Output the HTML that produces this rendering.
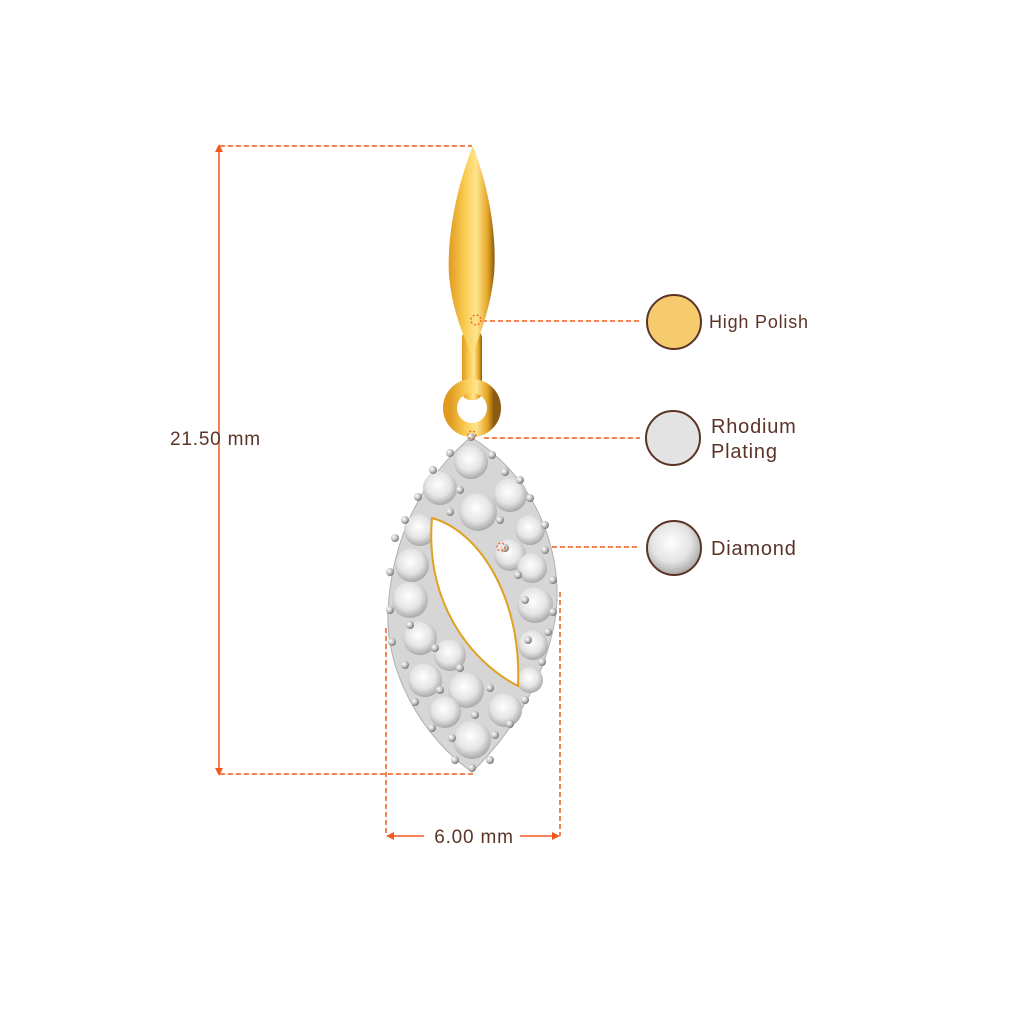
<!DOCTYPE html>
<html><head><meta charset="utf-8"><style>
html,body{margin:0;padding:0;background:#fff;}
svg{display:block}
text{font-family:"Liberation Sans",sans-serif;fill:#5b3427;letter-spacing:0.8px}
</style></head><body>
<svg width="1024" height="1024" viewBox="0 0 1024 1024" xmlns="http://www.w3.org/2000/svg">
<defs>
<linearGradient id="gold" x1="0" x2="1" y1="0" y2="0">
<stop offset="0" stop-color="#e09a20"/><stop offset="0.35" stop-color="#f9cc52"/><stop offset="0.6" stop-color="#ffe48e"/><stop offset="0.85" stop-color="#e4a424"/><stop offset="1" stop-color="#8a5a10"/></linearGradient>
<radialGradient id="dia" cx="0.45" cy="0.4" r="0.6"><stop offset="0" stop-color="#ffffff"/><stop offset="0.6" stop-color="#e4e4e4"/><stop offset="1" stop-color="#a8a8a8"/></radialGradient>
<radialGradient id="bead" cx="0.35" cy="0.35" r="0.7"><stop offset="0" stop-color="#fff"/><stop offset="0.5" stop-color="#c8c8c8"/><stop offset="1" stop-color="#707070"/></radialGradient>
</defs>
<g stroke="#f05a1e" stroke-width="1.5" fill="none">
<line x1="219" y1="150" x2="219" y2="770"/>
<line x1="220" y1="146" x2="472" y2="146" stroke-dasharray="5,3"/>
<line x1="220" y1="774" x2="475" y2="774" stroke-dasharray="5,3"/>
<line x1="386" y1="628" x2="386" y2="836" stroke-dasharray="5,3"/>
<line x1="560" y1="592" x2="560" y2="836" stroke-dasharray="5,3"/>
<line x1="390" y1="836" x2="424" y2="836"/>
<line x1="520" y1="836" x2="556" y2="836"/>
<line x1="482" y1="321" x2="640" y2="321" stroke-dasharray="5,3"/>
<line x1="484" y1="438" x2="640" y2="438" stroke-dasharray="5,3"/>
<line x1="504" y1="547" x2="640" y2="547" stroke-dasharray="5,3"/>
</g>
<g fill="#f05a1e">
<polygon points="219,144 215,152 223,152"/><polygon points="219,776 215,768 223,768"/>
<polygon points="386,836 394,832 394,840"/><polygon points="560,836 552,832 552,840"/>
</g>
<text x="170" y="445" font-size="19">21.50 mm</text>
<text x="474" y="843" font-size="19" text-anchor="middle">6.00 mm</text>
<!-- bale -->
<rect x="462" y="330" width="20" height="70" rx="8" fill="url(#gold)"/>
<circle cx="472" cy="408" r="22" fill="none" stroke="url(#gold)" stroke-width="14"/>
<path d="M473,146 C490,190 497,240 494,275 C490,310 480,335 472,355 C463,335 452,310 449,275 C447,240 455,190 473,146 Z" fill="url(#gold)"/>
<circle cx="476" cy="320" r="5" fill="none" stroke="#f05a1e" stroke-width="1.2" stroke-dasharray="2,2"/>
<!-- pendant -->
<path d="M471,437 C540,480 565,560 555,620 C542,690 505,740 472,772 C420,735 385,670 388,610 C392,540 420,480 471,437 Z" fill="#d6d6d6" stroke="#b0b0b0"/>
<g fill="url(#dia)">
<circle cx="471" cy="462" r="17"/><circle cx="440" cy="488" r="17"/><circle cx="510" cy="495" r="17"/>
<circle cx="478" cy="512" r="19"/><circle cx="420" cy="530" r="16"/><circle cx="530" cy="530" r="15"/>
<circle cx="412" cy="565" r="17"/><circle cx="510" cy="555" r="16"/><circle cx="532" cy="568" r="15"/>
<circle cx="410" cy="600" r="18"/><circle cx="535" cy="605" r="18"/><circle cx="420" cy="638" r="17"/>
<circle cx="533" cy="645" r="15"/><circle cx="450" cy="655" r="16"/><circle cx="425" cy="680" r="17"/>
<circle cx="466" cy="690" r="18"/><circle cx="530" cy="680" r="13"/><circle cx="505" cy="710" r="17"/>
<circle cx="445" cy="712" r="16"/><circle cx="472" cy="740" r="19"/>
</g>
<path d="M432,518 C482,532 522,602 518,686 C468,660 425,600 432,518 Z" fill="#fff" stroke="#e0a020" stroke-width="2"/>
<g fill="url(#bead)">
<circle cx="471" cy="437" r="4"/><circle cx="450" cy="453" r="4"/><circle cx="492" cy="455" r="4"/>
<circle cx="433" cy="470" r="4"/><circle cx="505" cy="472" r="4"/><circle cx="460" cy="490" r="4"/>
<circle cx="520" cy="480" r="4"/><circle cx="418" cy="497" r="4"/><circle cx="530" cy="498" r="4"/>
<circle cx="450" cy="512" r="4"/><circle cx="500" cy="520" r="4"/><circle cx="405" cy="520" r="4"/>
<circle cx="545" cy="525" r="4"/><circle cx="395" cy="538" r="4"/><circle cx="505" cy="548" r="4"/>
<circle cx="545" cy="550" r="4"/><circle cx="390" cy="572" r="4"/><circle cx="518" cy="575" r="4"/>
<circle cx="553" cy="580" r="4"/><circle cx="525" cy="600" r="4"/><circle cx="390" cy="610" r="4"/>
<circle cx="553" cy="612" r="4"/><circle cx="410" cy="625" r="4"/><circle cx="548" cy="632" r="4"/>
<circle cx="392" cy="642" r="4"/><circle cx="435" cy="648" r="4"/><circle cx="528" cy="640" r="4"/>
<circle cx="460" cy="668" r="4"/><circle cx="405" cy="665" r="4"/><circle cx="542" cy="662" r="4"/>
<circle cx="440" cy="690" r="4"/><circle cx="490" cy="688" r="4"/><circle cx="415" cy="702" r="4"/>
<circle cx="525" cy="700" r="4"/><circle cx="432" cy="728" r="4"/><circle cx="495" cy="735" r="4"/>
<circle cx="452" cy="738" r="4"/><circle cx="510" cy="724" r="4"/><circle cx="475" cy="715" r="4"/>
<circle cx="472" cy="768" r="4"/><circle cx="455" cy="760" r="4"/><circle cx="490" cy="760" r="4"/>
</g>
<circle cx="472" cy="435" r="4" fill="none" stroke="#f05a1e" stroke-width="1.2" stroke-dasharray="2,2"/>
<circle cx="501" cy="547" r="4" fill="none" stroke="#f05a1e" stroke-width="1.2" stroke-dasharray="2,2"/>
<!-- legend -->
<circle cx="674" cy="322" r="27" fill="#f5cb6e" stroke="#5b3427" stroke-width="2"/>
<circle cx="673" cy="438" r="27" fill="#e3e3e3" stroke="#5b3427" stroke-width="2"/>
<circle cx="674" cy="548" r="27" fill="url(#dia)" stroke="#5b3427" stroke-width="2"/>
<text x="709" y="328" font-size="18">High Polish</text>
<text x="711" y="433" font-size="20">Rhodium</text>
<text x="711" y="458" font-size="20">Plating</text>
<text x="711" y="555" font-size="20">Diamond</text>
</svg>
</body></html>
